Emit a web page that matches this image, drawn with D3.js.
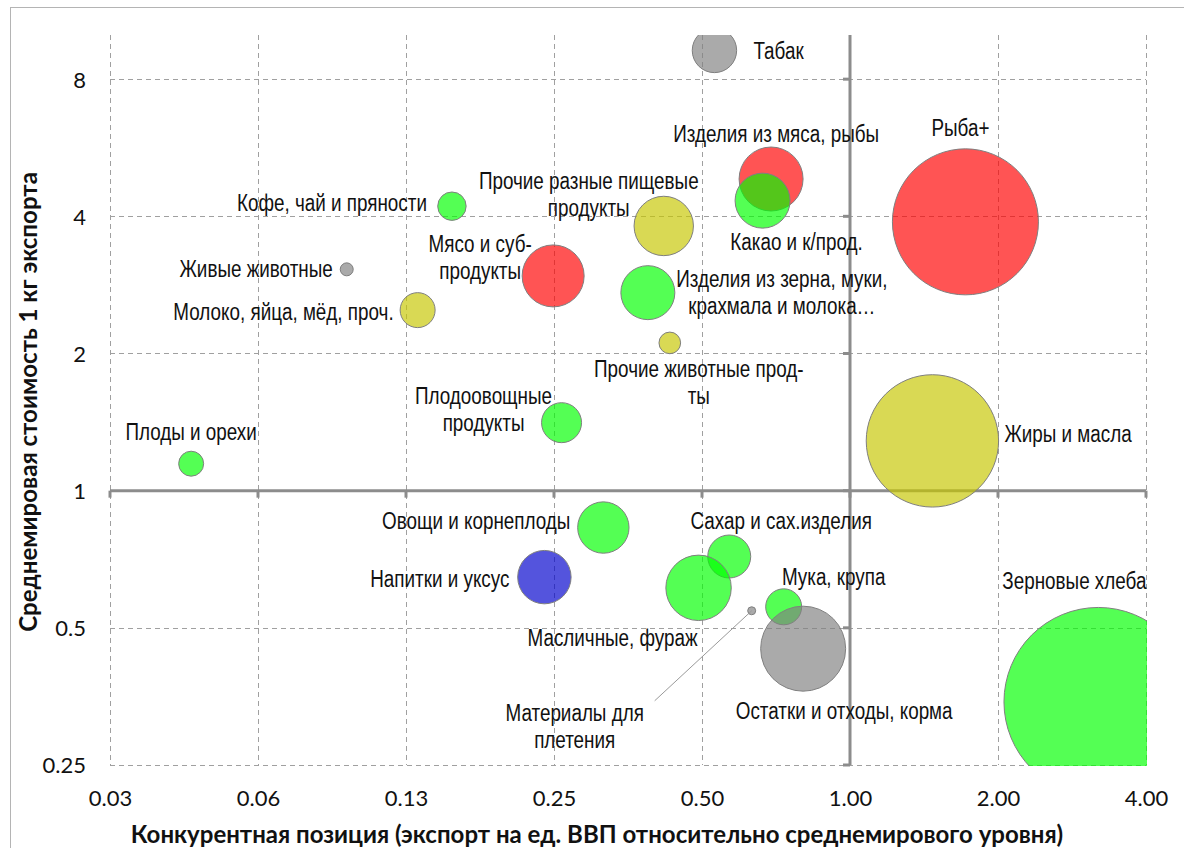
<!DOCTYPE html>
<html><head><meta charset="utf-8">
<script src="https://cdn.jsdelivr.net/npm/d3@7/dist/d3.min.js"></script>
<style>
html,body{margin:0;padding:0;background:#fff;}
svg{display:block;}
.lbl{font-family:"Liberation Sans",Arial,sans-serif;font-size:23px;fill:#111;}
.tick text{font-family:Lato,"Open Sans",sans-serif;font-size:22px;fill:#111;}
.title{font-family:Lato,"Open Sans",sans-serif;font-weight:bold;fill:#111;}
</style></head>
<body>
<svg id="chart" width="1184" height="848"></svg>
<script>
// ---------- data ----------
const categories = [
  "Табак","Изделия из мяса, рыбы","Какао и к/прод.","Рыба+","Кофе, чай и пряности",
  "Прочие разные пищевые\nпродукты","Мясо и суб-\nпродукты","Изделия из зерна, муки,\nкрахмала и молока…",
  "Живые животные","Молоко, яйца, мёд, проч.","Прочие животные прод-\nты","Плодоовощные\nпродукты",
  "Плоды и орехи","Жиры и масла","Овощи и корнеплоды","Напитки и уксус","Сахар и сах.изделия",
  "Масличные, фураж","Мука, крупа","Материалы для\nплетения","Остатки и отходы, корма","Зерновые хлеба"
];
const competitivePosition = [0.530,0.691,0.664,1.717,0.155,0.418,0.249,0.388,0.0947,0.132,0.430,0.259,0.0457,1.471,0.315,0.239,0.568,0.492,0.733,0.631,0.803,3.20];
const worldPricePerKg     = [9.25,4.83,4.33,3.89,4.21,3.81,2.96,2.72,3.06,2.49,2.11,1.41,1.146,1.286,0.830,0.646,0.717,0.612,0.556,0.545,0.450,0.344];
const exportVolume        = [4.93,10.24,7.56,53.3,2.02,8.82,9.61,7.29,0.42,3.06,1.17,4.0,1.56,43.8,6.6,7.13,4.62,10.7,3.24,0.16,18.06,89.1];
const groups = ["other","meat","plant","meat","plant","mixed","meat","plant","other","mixed","mixed","plant","plant","mixed","plant","drink","plant","plant","plant","other","other","plant"];
const xTickValues = [1/32,1/16,1/8,1/4,1/2,1,2,4];
const xTickLabels = ["0.03","0.06","0.13","0.25","0.50","1.00","2.00","4.00"];
const yTickValues = [0.25,0.5,1,2,4,8];
const yTickLabels = ["0.25","0.5","1","2","4","8"];
const xTitle = "Конкурентная позиция (экспорт на ед. ВВП относительно среднемирового уровня)";
const yTitle = "Среднемировая стоимость  1 кг экспорта";

// ---------- styles / layout ----------
const groupColor = {meat:"#ff0000", plant:"#00ff00", mixed:"#c6c600", other:"#808080", drink:"#0000cc"};
// label placement relative to bubble centre (px): [dx, dy, anchor]
const labelPlace = [
  [39,0,"start"],[5,-45,"middle"],[34,41,"middle"],[-5,-94,"middle"],[-25,-3,"end"],
  [-75,-45,"middle"],[-73,-32,"middle"],[134,-14,"middle"],[-14,-1,"end"],[-24,2,"end"],
  [29,26,"middle"],[-78,-27,"middle"],[0,-32,"middle"],[72,-7,"start"],[-33,-7,"end"],
  [-35,2,"end"],[52,-36,"middle"],[-86,50,"middle"],[50,-30,"middle"],[-177,102,"middle"],
  [41,62,"middle"],[-24,-121,"middle"]
];
const leader = {19:[-97,90]};
const narrow = 0.82;

const L=110,R=1146,T=35,B=765;
const svg = d3.select("#chart");
const x = d3.scaleLog().base(2).domain([1/32,4]).range([L,R]);
const y = d3.scaleLog().base(2).domain([0.25,10]).range([B,T]);
const r = d3.scaleSqrt().domain([0,100]).range([0,100]);

// outer border
svg.append("rect").attr("x",10.5).attr("y",7.5).attr("width",1200).attr("height",900)
  .attr("fill","none").attr("stroke","#b4b4b4").attr("stroke-width",1);

// grid
const grid = svg.append("g").attr("stroke","#a0a0a0").attr("stroke-width",1).attr("stroke-dasharray","5,4");
grid.selectAll(".gx").data(xTickValues).join("line")
  .attr("x1",d=>Math.round(x(d))+0.5).attr("x2",d=>Math.round(x(d))+0.5).attr("y1",T).attr("y2",B);
grid.selectAll(".gy").data(yTickValues).join("line")
  .attr("y1",d=>Math.round(y(d))+0.5).attr("y2",d=>Math.round(y(d))+0.5).attr("x1",L).attr("x2",R);

// tick labels via d3 axes
const xAxis = svg.append("g").attr("transform",`translate(0,${B})`)
  .call(d3.axisBottom(x).tickValues(xTickValues).tickFormat((d,i)=>xTickLabels[i]).tickSize(0).tickPadding(0));
xAxis.select(".domain").remove();
xAxis.selectAll("text").attr("y",41).attr("dy",null).attr("fill","#111");
const yAxis = svg.append("g").attr("transform",`translate(${L},0)`)
  .call(d3.axisLeft(y).tickValues(yTickValues).tickFormat((d,i)=>yTickLabels[i]).tickSize(0).tickPadding(0));
yAxis.select(".domain").remove();
yAxis.selectAll("text").attr("x",-24).attr("dy","0.36em").attr("fill","#111");

// crossing axes at 1,1
const ax = svg.append("g").attr("stroke","#8c8c8c").attr("stroke-width",3);
ax.append("line").attr("x1",L).attr("x2",R).attr("y1",y(1)).attr("y2",y(1));
ax.append("line").attr("x1",x(1)).attr("x2",x(1)).attr("y1",T).attr("y2",B);
ax.selectAll(".tx").data(xTickValues).join("line")
  .attr("x1",d=>x(d)).attr("x2",d=>x(d)).attr("y1",y(1)).attr("y2",y(1)+7);
ax.selectAll(".ty").data(yTickValues).join("line")
  .attr("y1",d=>y(d)).attr("y2",d=>y(d)).attr("x1",x(1)-7).attr("x2",x(1));

// bubbles
svg.append("clipPath").attr("id","plotclip").append("rect")
  .attr("x",L).attr("y",T).attr("width",R-L+1).attr("height",B-T+1);
const idx = d3.range(categories.length);
svg.append("g").attr("clip-path","url(#plotclip)")
  .selectAll("circle").data(idx).join("circle")
  .attr("cx",i=>x(competitivePosition[i])).attr("cy",i=>y(worldPricePerKg[i]))
  .attr("r",i=>r(exportVolume[i]))
  .attr("fill",i=>groupColor[groups[i]]).attr("fill-opacity",0.67)
  .attr("stroke","#7f7f7f").attr("stroke-width",1);

// leader lines
Object.entries(leader).forEach(([k,[dx,dy]])=>{
  const i=+k, cx=x(competitivePosition[i]), cy=y(worldPricePerKg[i]);
  svg.append("line").attr("x1",cx).attr("y1",cy).attr("x2",cx+dx).attr("y2",cy+dy)
    .attr("stroke","#9a9a9a").attr("stroke-width",1);
});

// labels (condensed sans to mimic a narrow face)
const lg = svg.append("g");
idx.forEach(i=>{
  const [dx,dy,anchor] = labelPlace[i];
  const cx=x(competitivePosition[i])+dx, cy=y(worldPricePerKg[i])+dy;
  const t = lg.append("text").attr("class","lbl").attr("text-anchor",anchor)
    .attr("transform",`translate(${cx},${cy}) scale(${narrow},1)`);
  categories[i].split("\n").forEach((line,j)=>{
    t.append("tspan").attr("x",0).attr("dy",j===0?"0.36em":"27px").text(line);
  });
});

// axis titles
const xt = svg.append("text").attr("class","title").attr("text-anchor","middle")
  .attr("x",597).attr("y",843).style("font-size","20px").text(xTitle);
const xl = xt.node().getComputedTextLength();
xt.style("font-size",(20*933/xl)+"px");
const yt = svg.append("text").attr("class","title").attr("text-anchor","middle")
  .attr("transform","translate(37,402) rotate(-90)").style("font-size","20px").text(yTitle);
const yl = yt.node().getComputedTextLength();
yt.style("font-size",(20*460/yl)+"px");
</script>
</body></html>
